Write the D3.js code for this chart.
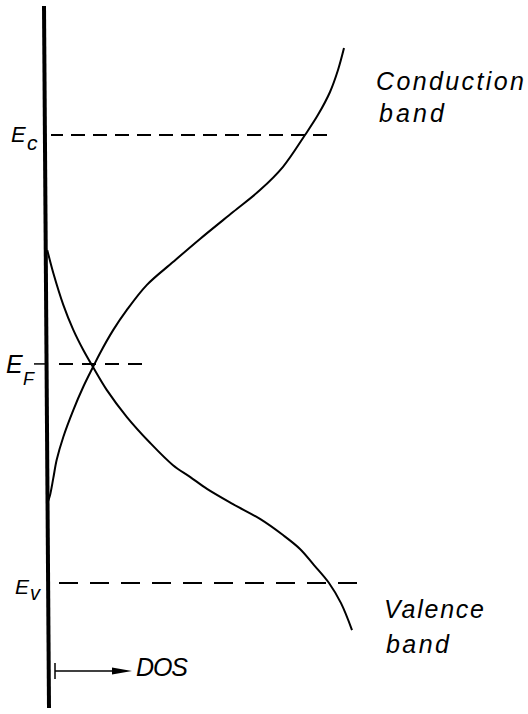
<!DOCTYPE html>
<html>
<head>
<meta charset="utf-8">
<script src="https://cdn.jsdelivr.net/npm/d3@7"></script>
<style>
  html, body { margin: 0; padding: 0; background: #fff; }
  svg { display: block; }
  text { font-family: "Liberation Sans", Arial, sans-serif; font-style: italic; fill: #000; }
</style>
</head>
<body>
<script>
// Density of states (DOS, arbitrary units) against energy (Ev = 0, Ec = 10)
const conductionDOS = [0.05, 0.3, 0.63, 0.97, 1.63, 2.63, 3.63, 4.6, 5.3, 6.63, 7.97, 9.97, 12.63, 15.3, 18.6, 21.3, 23.6, 25.8, 27.1, 28.3, 29.1, 29.7];
const conductionE   = [1.79, 1.96, 2.34, 2.75, 3.26, 3.86, 4.38, 4.82, 5.13, 5.65, 6.09, 6.65, 7.17, 7.68, 8.28, 8.77, 9.29, 10.0, 10.45, 10.96, 11.45, 11.94];

const valenceDOS = [0.03, 0.63, 1.63, 2.63, 3.63, 4.6, 5.97, 7.97, 10.3, 12.6, 14.3, 16.0, 18.6, 21.3, 23.6, 25.3, 26.7, 28.2, 29.4, 30.5];
const valenceE   = [7.43, 6.92, 6.21, 5.65, 5.20, 4.82, 4.31, 3.71, 3.13, 2.63, 2.37, 2.10, 1.76, 1.43, 1.07, 0.76, 0.40, 0.0, -0.45, -1.05];

// Energy levels: label subscript, energy, DOS extent of the dashed marker
const levelSubs   = ["c", "F", "v"];
const levelE      = [10, 4.89, 0];
const levelExtent = [28.0, 9.5, 31.0];

const bandLabels = [["Conduction", "band"], ["Valence", "band"]];
const axisLabel = "DOS";

const W = 528, H = 714;
const svg = d3.select("body").append("svg").attr("width", W).attr("height", H);
svg.append("rect").attr("width", W).attr("height", H).attr("fill", "#fff");

const x = d3.scaleLinear().domain([0, 30]).range([47, 347]);
const y = d3.scaleLinear().domain([0, 10]).range([583, 135]);

// Energy axis (thick vertical line at zero DOS)
svg.append("line")
  .attr("x1", x(0) - 3).attr("y1", 6)
  .attr("x2", x(0) + 2).attr("y2", 708)
  .attr("stroke", "#000").attr("stroke-width", 4);

// Dashed energy-level markers
const dashes = ["14,8", "14,9", "19,12"];
levelE.forEach((e, i) => {
  svg.append("line")
    .attr("x1", x(levelExtent[i])).attr("x2", x(0) + 4)
    .attr("y1", y(e)).attr("y2", y(e))
    .attr("stroke", "#000").attr("stroke-width", 2)
    .attr("stroke-dasharray", dashes[i]);
});
// small tick left of the axis at the Fermi level
svg.append("line").attr("x1", 34).attr("x2", x(0) - 2)
  .attr("y1", y(levelE[1])).attr("y2", y(levelE[1]))
  .attr("stroke", "#000").attr("stroke-width", 1.5);

// Level labels E_c, E_F, E_v  [E x, E dy, E size, sub x, sub dy, sub size]
const labelPos = [
  [11, 7, 22, 27, 15, 21],
  [6, 9, 25, 23, 21, 18],
  [15, 11, 21, 30, 17, 20]
];
levelSubs.forEach((s, i) => {
  const p = labelPos[i], ly = y(levelE[i]);
  svg.append("text").attr("x", p[0]).attr("y", ly + p[1]).attr("font-size", p[2]).text("E");
  svg.append("text").attr("x", p[3]).attr("y", ly + p[4]).attr("font-size", p[5]).text(s);
});

// DOS curves
const line = d3.line().curve(d3.curveCatmullRom.alpha(0.5))
  .x(d => x(d[0])).y(d => y(d[1]));
const condPts = d3.zip(conductionDOS, conductionE);
const valPts = d3.zip(valenceDOS, valenceE);
[condPts, valPts].forEach(pts => {
  svg.append("path").attr("d", line(pts))
    .attr("fill", "none").attr("stroke", "#000").attr("stroke-width", 2);
});

// Band labels
const bandPos = [[[376, 90, 148], [379, 122, 65]], [[384, 618, 100], [386, 653, 63]]];
bandLabels.forEach((lines, i) => {
  lines.forEach((txt, j) => {
    svg.append("text")
      .attr("x", bandPos[i][j][0]).attr("y", bandPos[i][j][1])
      .attr("font-size", 25)
      .attr("textLength", bandPos[i][j][2]).attr("lengthAdjust", "spacing")
      .text(txt);
  });
});

// DOS direction arrow
const arrowY = 671;
svg.append("line").attr("x1", 55).attr("x2", 55).attr("y1", arrowY - 8).attr("y2", arrowY + 8)
  .attr("stroke", "#000").attr("stroke-width", 1.5);
svg.append("line").attr("x1", 55).attr("x2", 116).attr("y1", arrowY).attr("y2", arrowY)
  .attr("stroke", "#000").attr("stroke-width", 1.5);
svg.append("path")
  .attr("d", `M112,${arrowY - 3.5} L132,${arrowY} L112,${arrowY + 3.5} Z`)
  .attr("fill", "#000");
svg.append("text").attr("x", 136).attr("y", 676).attr("font-size", 25)
  .attr("textLength", 52).attr("lengthAdjust", "spacing").text(axisLabel);
</script>
</body>
</html>
